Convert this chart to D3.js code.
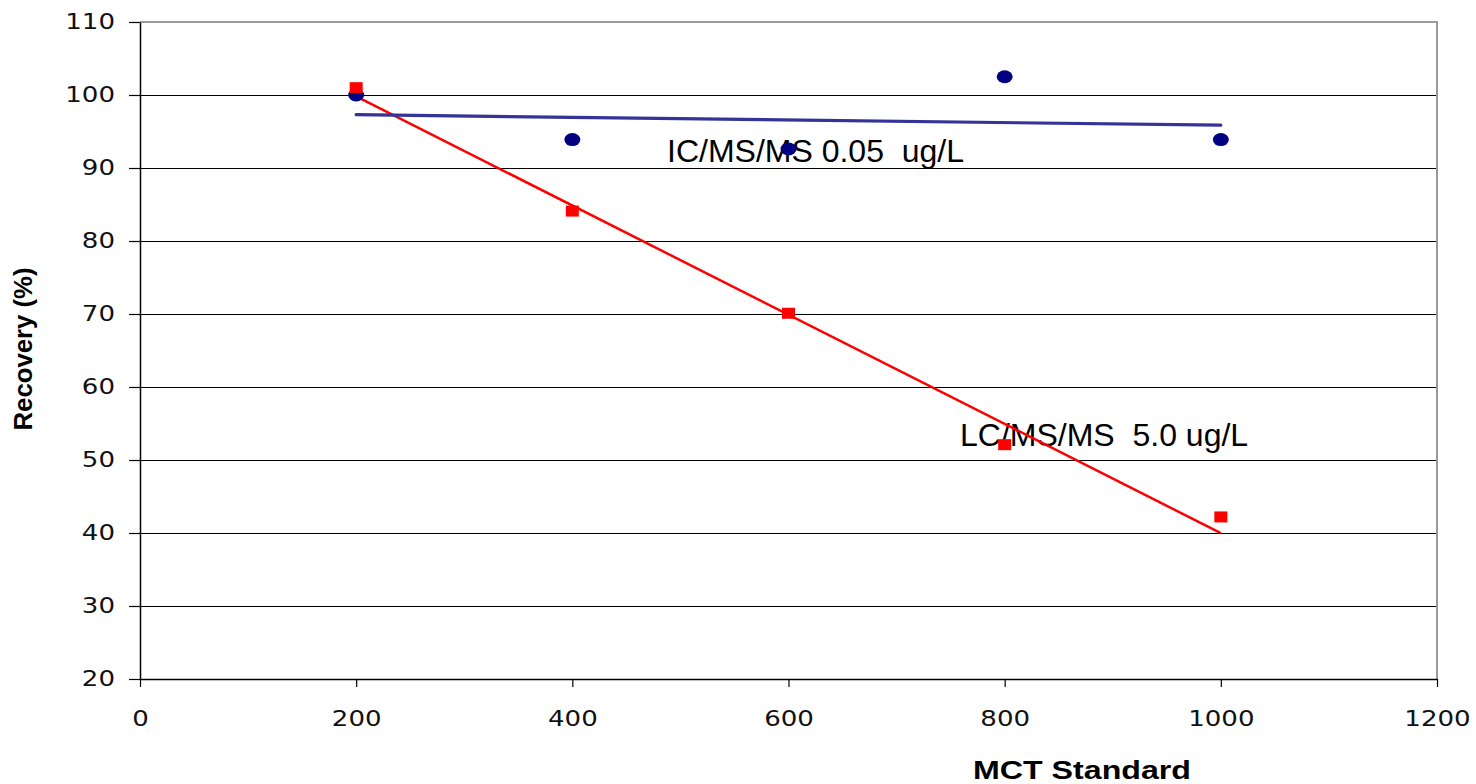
<!DOCTYPE html>
<html>
<head>
<meta charset="utf-8">
<script src="https://cdn.jsdelivr.net/npm/d3@7"></script>
<style>
  html, body { margin: 0; padding: 0; background: #fff; }
  svg { display: block; }
  text.note { white-space: pre; }
</style>
</head>
<body>
<svg id="chart" width="1476" height="784"></svg>
<script>
// MCT standard levels (x) and measured recovery (%) for each method
const standards = [200, 400, 600, 800, 1000];
const icRecovery = [100.0, 93.9, 92.6, 102.5, 93.9];   // IC/MS/MS 0.05 ug/L
const lcRecovery = [101.0, 84.1, 70.1, 52.1, 42.2];    // LC/MS/MS 5.0 ug/L
const xTicks = [0, 200, 400, 600, 800, 1000, 1200];
const yTicks = [20, 30, 40, 50, 60, 70, 80, 90, 100, 110];
const icLabel = "IC/MS/MS 0.05  ug/L";
const lcLabel = "LC/MS/MS  5.0 ug/L";
const xTitle = "MCT Standard";
const yTitle = "Recovery (%)";

const svg = d3.select("#chart");
const plot = { left: 140, right: 1437, top: 22, bottom: 679 };

const x = d3.scaleLinear().domain([0, 1200]).range([plot.left, plot.right]);
const y = d3.scaleLinear().domain([20, 110]).range([plot.bottom, plot.top]);

// horizontal stretch applied to axis text
const STRETCH = 1.24;
function stretchText(sel, factor) {
  sel.each(function () {
    const w = this.getComputedTextLength();
    d3.select(this).attr("textLength", w * factor).attr("lengthAdjust", "spacingAndGlyphs");
  });
}

// gridlines
svg.append("g")
  .attr("shape-rendering", "crispEdges")
  .selectAll("line")
  .data(yTicks.filter(d => d > 20 && d < 110))
  .join("line")
  .attr("x1", plot.left).attr("x2", plot.right)
  .attr("y1", d => Math.round(y(d)) + 0.5).attr("y2", d => Math.round(y(d)) + 0.5)
  .attr("stroke", "#000").attr("stroke-width", 1);

// plot frame: top and right edges in grey
svg.append("path")
  .attr("d", `M${plot.left},${y(110)}H${plot.right}V${plot.bottom}`)
  .attr("fill", "none").attr("stroke", "#9a9a9a").attr("stroke-width", 2);

// y axis
const yAxis = svg.append("g")
  .attr("transform", `translate(${plot.left},0)`)
  .call(d3.axisLeft(y).tickValues(yTicks).tickFormat(d3.format("d"))
    .tickSize(11).tickPadding(14).tickSizeOuter(0));
yAxis.select(".domain").attr("stroke", "#000").attr("stroke-width", 1.5);
yAxis.selectAll(".tick line").attr("stroke", "#000").attr("stroke-width", 1.2);
yAxis.selectAll(".tick text")
  .attr("font-family", "DejaVu Sans").attr("font-size", 21).attr("fill", "#111");

// x axis
const xAxis = svg.append("g")
  .attr("transform", `translate(0,${plot.bottom})`)
  .call(d3.axisBottom(x).tickValues(xTicks).tickFormat(d3.format("d"))
    .tickSize(8).tickPadding(24).tickSizeOuter(0));
xAxis.select(".domain").attr("stroke", "#000").attr("stroke-width", 1.5);
xAxis.selectAll(".tick line").attr("stroke", "#000").attr("stroke-width", 1.2);
xAxis.selectAll(".tick text")
  .attr("font-family", "DejaVu Sans").attr("font-size", 21).attr("fill", "#111");

stretchText(yAxis.selectAll(".tick text"), STRETCH);
stretchText(xAxis.selectAll(".tick text"), STRETCH);

// axis titles
svg.append("text")
  .attr("x", 1082).attr("y", 779)
  .attr("text-anchor", "middle")
  .attr("font-family", "Liberation Sans, Arial, sans-serif")
  .attr("font-weight", "bold").attr("font-size", 25)
  .attr("textLength", 218).attr("lengthAdjust", "spacingAndGlyphs")
  .text(xTitle);

svg.append("text")
  .attr("transform", "translate(32,349) rotate(-90)")
  .attr("text-anchor", "middle")
  .attr("font-family", "Liberation Sans, Arial, sans-serif")
  .attr("font-weight", "bold").attr("font-size", 25)
  .attr("textLength", 163).attr("lengthAdjust", "spacingAndGlyphs")
  .text(yTitle);

// series annotations
svg.append("text")
  .attr("class", "note")
  .attr("x", 667).attr("y", 162)
  .attr("font-family", "Liberation Sans, Arial, sans-serif")
  .attr("font-size", 32).attr("fill", "#000")
  .text(icLabel);

svg.append("text")
  .attr("class", "note")
  .attr("x", 960).attr("y", 446)
  .attr("font-family", "Liberation Sans, Arial, sans-serif")
  .attr("font-size", 32).attr("fill", "#000")
  .text(lcLabel);

// least-squares trend lines across the measured range
function fit(xs, ys) {
  const mx = d3.mean(xs), my = d3.mean(ys);
  let num = 0, den = 0;
  xs.forEach((xi, i) => { num += (xi - mx) * (ys[i] - my); den += (xi - mx) ** 2; });
  const b = num / den, a = my - b * mx;
  return v => a + b * v;
}
const icFit = fit(standards, icRecovery);
const lcFit = fit(standards, lcRecovery);
const xExt = d3.extent(standards);
const line = d3.line().x(d => x(d[0])).y(d => y(d[1]));

svg.append("path")
  .datum(xExt.map(v => [v, lcFit(v)]))
  .attr("d", line)
  .attr("fill", "none").attr("stroke", "#ff0000").attr("stroke-width", 2.5);

svg.append("path")
  .datum(xExt.map(v => [v, icFit(v)]))
  .attr("d", line)
  .attr("fill", "none").attr("stroke", "#333399").attr("stroke-width", 3.2)
  .attr("stroke-linecap", "round");

// IC/MS/MS points
svg.append("g")
  .selectAll("ellipse")
  .data(standards.map((s, i) => [s, icRecovery[i]]))
  .join("ellipse")
  .attr("cx", d => x(d[0])).attr("cy", d => y(d[1]))
  .attr("rx", 8).attr("ry", 6.5)
  .attr("fill", "#000080");

// LC/MS/MS points
svg.append("g")
  .selectAll("rect")
  .data(standards.map((s, i) => [s, lcRecovery[i]]))
  .join("rect")
  .attr("x", d => x(d[0]) - 6.5).attr("y", d => y(d[1]) - 5.5)
  .attr("width", 13).attr("height", 11)
  .attr("fill", "#ff0000");
</script>
</body>
</html>
